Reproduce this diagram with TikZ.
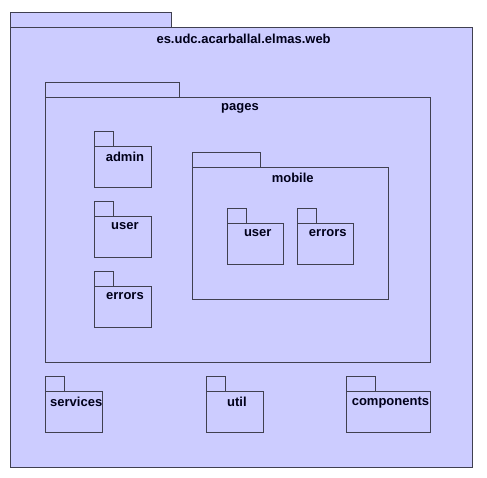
\documentclass[tikz,border=0pt]{standalone}
\usepackage{fontspec}
\setmainfont{Liberation Sans}
\usetikzlibrary{positioning}
\definecolor{pkgfill}{HTML}{CCCCFF}
\definecolor{pkgline}{HTML}{404050}
\tikzset{
	pkgbox/.style={draw=pkgline, fill=pkgfill, line width=0.9pt, inner sep=0pt, anchor=north west},
	pkgtab/.style={draw=pkgline, fill=pkgfill, line width=0.9pt},
	pkgname/.style={font=\bfseries\fontsize{13}{15}\selectfont, text=black!90!blue, inner sep=0pt, xshift=2pt},
}
\begin{document}
\begin{tikzpicture}[x=1pt,y=-1pt]
\useasboundingbox (0,0) rectangle (487,477);
% outer package
\draw[pkgtab] (10.3,12.3) rectangle (171.7,27);
\node[pkgbox, minimum width=461.7pt, minimum height=439.7pt] (web) at (10.3,27) {};
\node[pkgname, below=6.5pt of web.north] (web-name) {es.udc.acarballal.elmas.web};
% pages
\draw[pkgtab] (45,82.3) rectangle (179.7,97.3);
\node[pkgbox, minimum width=385pt, minimum height=264.2pt] (pages) at (45,97.3) {};
\node[pkgname, below=6pt of pages.north] (pages-name) {pages};
% left column
\draw[pkgtab] (94.3,131.3) rectangle (113.7,146.3);
\node[pkgbox, minimum width=56.4pt, minimum height=41pt] (admin) at (94.3,146.3) {};
\node[pkgname, below=6pt of admin.north] (admin-name) {admin};
\draw[pkgtab] (94.3,201.3) rectangle (113.7,216.3);
\node[pkgbox, minimum width=56.4pt, minimum height=41pt] (user) at (94.3,216.3) {};
\node[pkgname, below=6pt of user.north] (user-name) {user};
\draw[pkgtab] (94.3,271.3) rectangle (113.7,286.3);
\node[pkgbox, minimum width=56.4pt, minimum height=41pt] (errors) at (94.3,286.3) {};
\node[pkgname, below=6pt of errors.north] (errors-name) {errors};
% mobile
\draw[pkgtab] (192.3,152.3) rectangle (260.3,167.3);
\node[pkgbox, minimum width=196pt, minimum height=132pt] (mobile) at (192.3,167.3) {};
\node[pkgname, below=6pt of mobile.north] (mobile-name) {mobile};
\draw[pkgtab] (227.3,208) rectangle (246.7,223);
\node[pkgbox, minimum width=56pt, minimum height=41.3pt] (muser) at (227.3,223) {};
\node[pkgname, below=6pt of muser.north] (muser-name) {user};
\draw[pkgtab] (297.3,208) rectangle (316.7,223);
\node[pkgbox, minimum width=56pt, minimum height=41.3pt] (merrors) at (297.3,223) {};
\node[pkgname, below=6pt of merrors.north] (merrors-name) {errors};
% bottom row
\draw[pkgtab] (45.3,376.3) rectangle (64.7,391);
\node[pkgbox, minimum width=57pt, minimum height=41pt] (services) at (45.3,391) {};
\node[pkgname, below=6pt of services.north] (services-name) {services};
\draw[pkgtab] (206.3,376.3) rectangle (225.7,391);
\node[pkgbox, minimum width=56.4pt, minimum height=41pt] (util) at (206.3,391) {};
\node[pkgname, below=6pt of util.north] (util-name) {util};
\draw[pkgtab] (346.3,376.3) rectangle (375.3,391);
\node[pkgbox, minimum width=83.4pt, minimum height=41pt] (components) at (346.3,391) {};
\node[pkgname, below=6pt of components.north] (components-name) {components};
\end{tikzpicture}
\end{document}
